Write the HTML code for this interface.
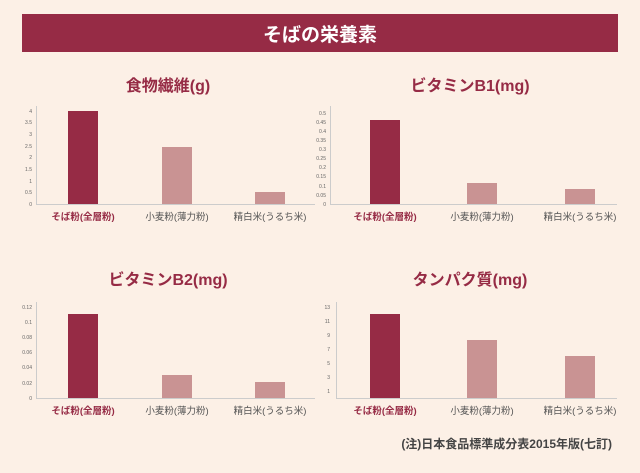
<!DOCTYPE html><html><head><meta charset="utf-8"><style>body{margin:0;background:#fcf0e6}svg{display:block}</style></head><body>
<svg width="640" height="473" xmlns="http://www.w3.org/2000/svg" font-family="'Liberation Sans','Noto Sans CJK JP',sans-serif">
<rect width="640" height="473" fill="#fcf0e6"/>
<rect x="22" y="14" width="596" height="38" fill="#962b45"/>
<text x="320" y="41" fill="#fff" font-size="19" font-weight="bold" text-anchor="middle">そばの栄養素</text>
<g font-weight="bold" font-size="16" fill="#962b45" text-anchor="middle">
<text x="168" y="91">食物繊維(g)</text><text x="470" y="91">ビタミンB1(mg)</text>
<text x="168" y="285">ビタミンB2(mg)</text><text x="470" y="285">タンパク質(mg)</text>
</g>
<g stroke="#ccc" stroke-width="1">
<line x1="36.5" y1="106" x2="36.5" y2="204.5"/><line x1="36" y1="204.5" x2="315" y2="204.5"/>
<line x1="330.5" y1="106" x2="330.5" y2="204.5"/><line x1="330" y1="204.5" x2="617" y2="204.5"/>
<line x1="36.5" y1="302" x2="36.5" y2="398.5"/><line x1="36" y1="398.5" x2="315" y2="398.5"/>
<line x1="336.5" y1="302" x2="336.5" y2="398.5"/><line x1="336" y1="398.5" x2="617" y2="398.5"/>
</g>
<g fill="#962b45"><rect x="68" y="111" width="30" height="93"/><rect x="370" y="120" width="30" height="84"/><rect x="68" y="314" width="30" height="84"/><rect x="370" y="314" width="30" height="84"/></g>
<g fill="#c99393"><rect x="162" y="147" width="30" height="57"/><rect x="255" y="192" width="30" height="12"/>
<rect x="467" y="183" width="30" height="21"/><rect x="565" y="189" width="30" height="15"/>
<rect x="162" y="375" width="30" height="23"/><rect x="255" y="382" width="30" height="16"/>
<rect x="467" y="340" width="30" height="58"/><rect x="565" y="356" width="30" height="42"/></g>
<g font-size="5" fill="#666" text-anchor="end">
<text x="32" y="113">4</text><text x="32" y="124">3.5</text><text x="32" y="136">3</text><text x="32" y="148">2.5</text><text x="32" y="159">2</text><text x="32" y="171">1.5</text><text x="32" y="183">1</text><text x="32" y="194">0.5</text><text x="32" y="206">0</text>
<text x="326" y="115">0.5</text><text x="326" y="124">0.45</text><text x="326" y="133">0.4</text><text x="326" y="142">0.35</text><text x="326" y="151">0.3</text><text x="326" y="160">0.25</text><text x="326" y="169">0.2</text><text x="326" y="178">0.15</text><text x="326" y="188">0.1</text><text x="326" y="197">0.05</text><text x="326" y="206">0</text>
<text x="32" y="309">0.12</text><text x="32" y="324">0.1</text><text x="32" y="339">0.08</text><text x="32" y="354">0.06</text><text x="32" y="369">0.04</text><text x="32" y="385">0.02</text><text x="32" y="400">0</text>
<text x="330" y="309">13</text><text x="330" y="323">11</text><text x="330" y="337">9</text><text x="330" y="351">7</text><text x="330" y="365">5</text><text x="330" y="379">3</text><text x="330" y="393">1</text>
</g>
<g font-size="9.5" text-anchor="middle" fill="#555">
<text x="83" y="220" fill="#962b45" font-weight="bold">そば粉(全層粉)</text><text x="177" y="220">小麦粉(薄力粉)</text><text x="270" y="220">精白米(うるち米)</text>
<text x="385" y="220" fill="#962b45" font-weight="bold">そば粉(全層粉)</text><text x="482" y="220">小麦粉(薄力粉)</text><text x="580" y="220">精白米(うるち米)</text>
<text x="83" y="414" fill="#962b45" font-weight="bold">そば粉(全層粉)</text><text x="177" y="414">小麦粉(薄力粉)</text><text x="270" y="414">精白米(うるち米)</text>
<text x="385" y="414" fill="#962b45" font-weight="bold">そば粉(全層粉)</text><text x="482" y="414">小麦粉(薄力粉)</text><text x="580" y="414">精白米(うるち米)</text>
</g>
<text x="612" y="448" font-size="12" font-weight="bold" fill="#444" text-anchor="end">(注)日本食品標準成分表2015年版(七訂)</text>
</svg></body></html>
